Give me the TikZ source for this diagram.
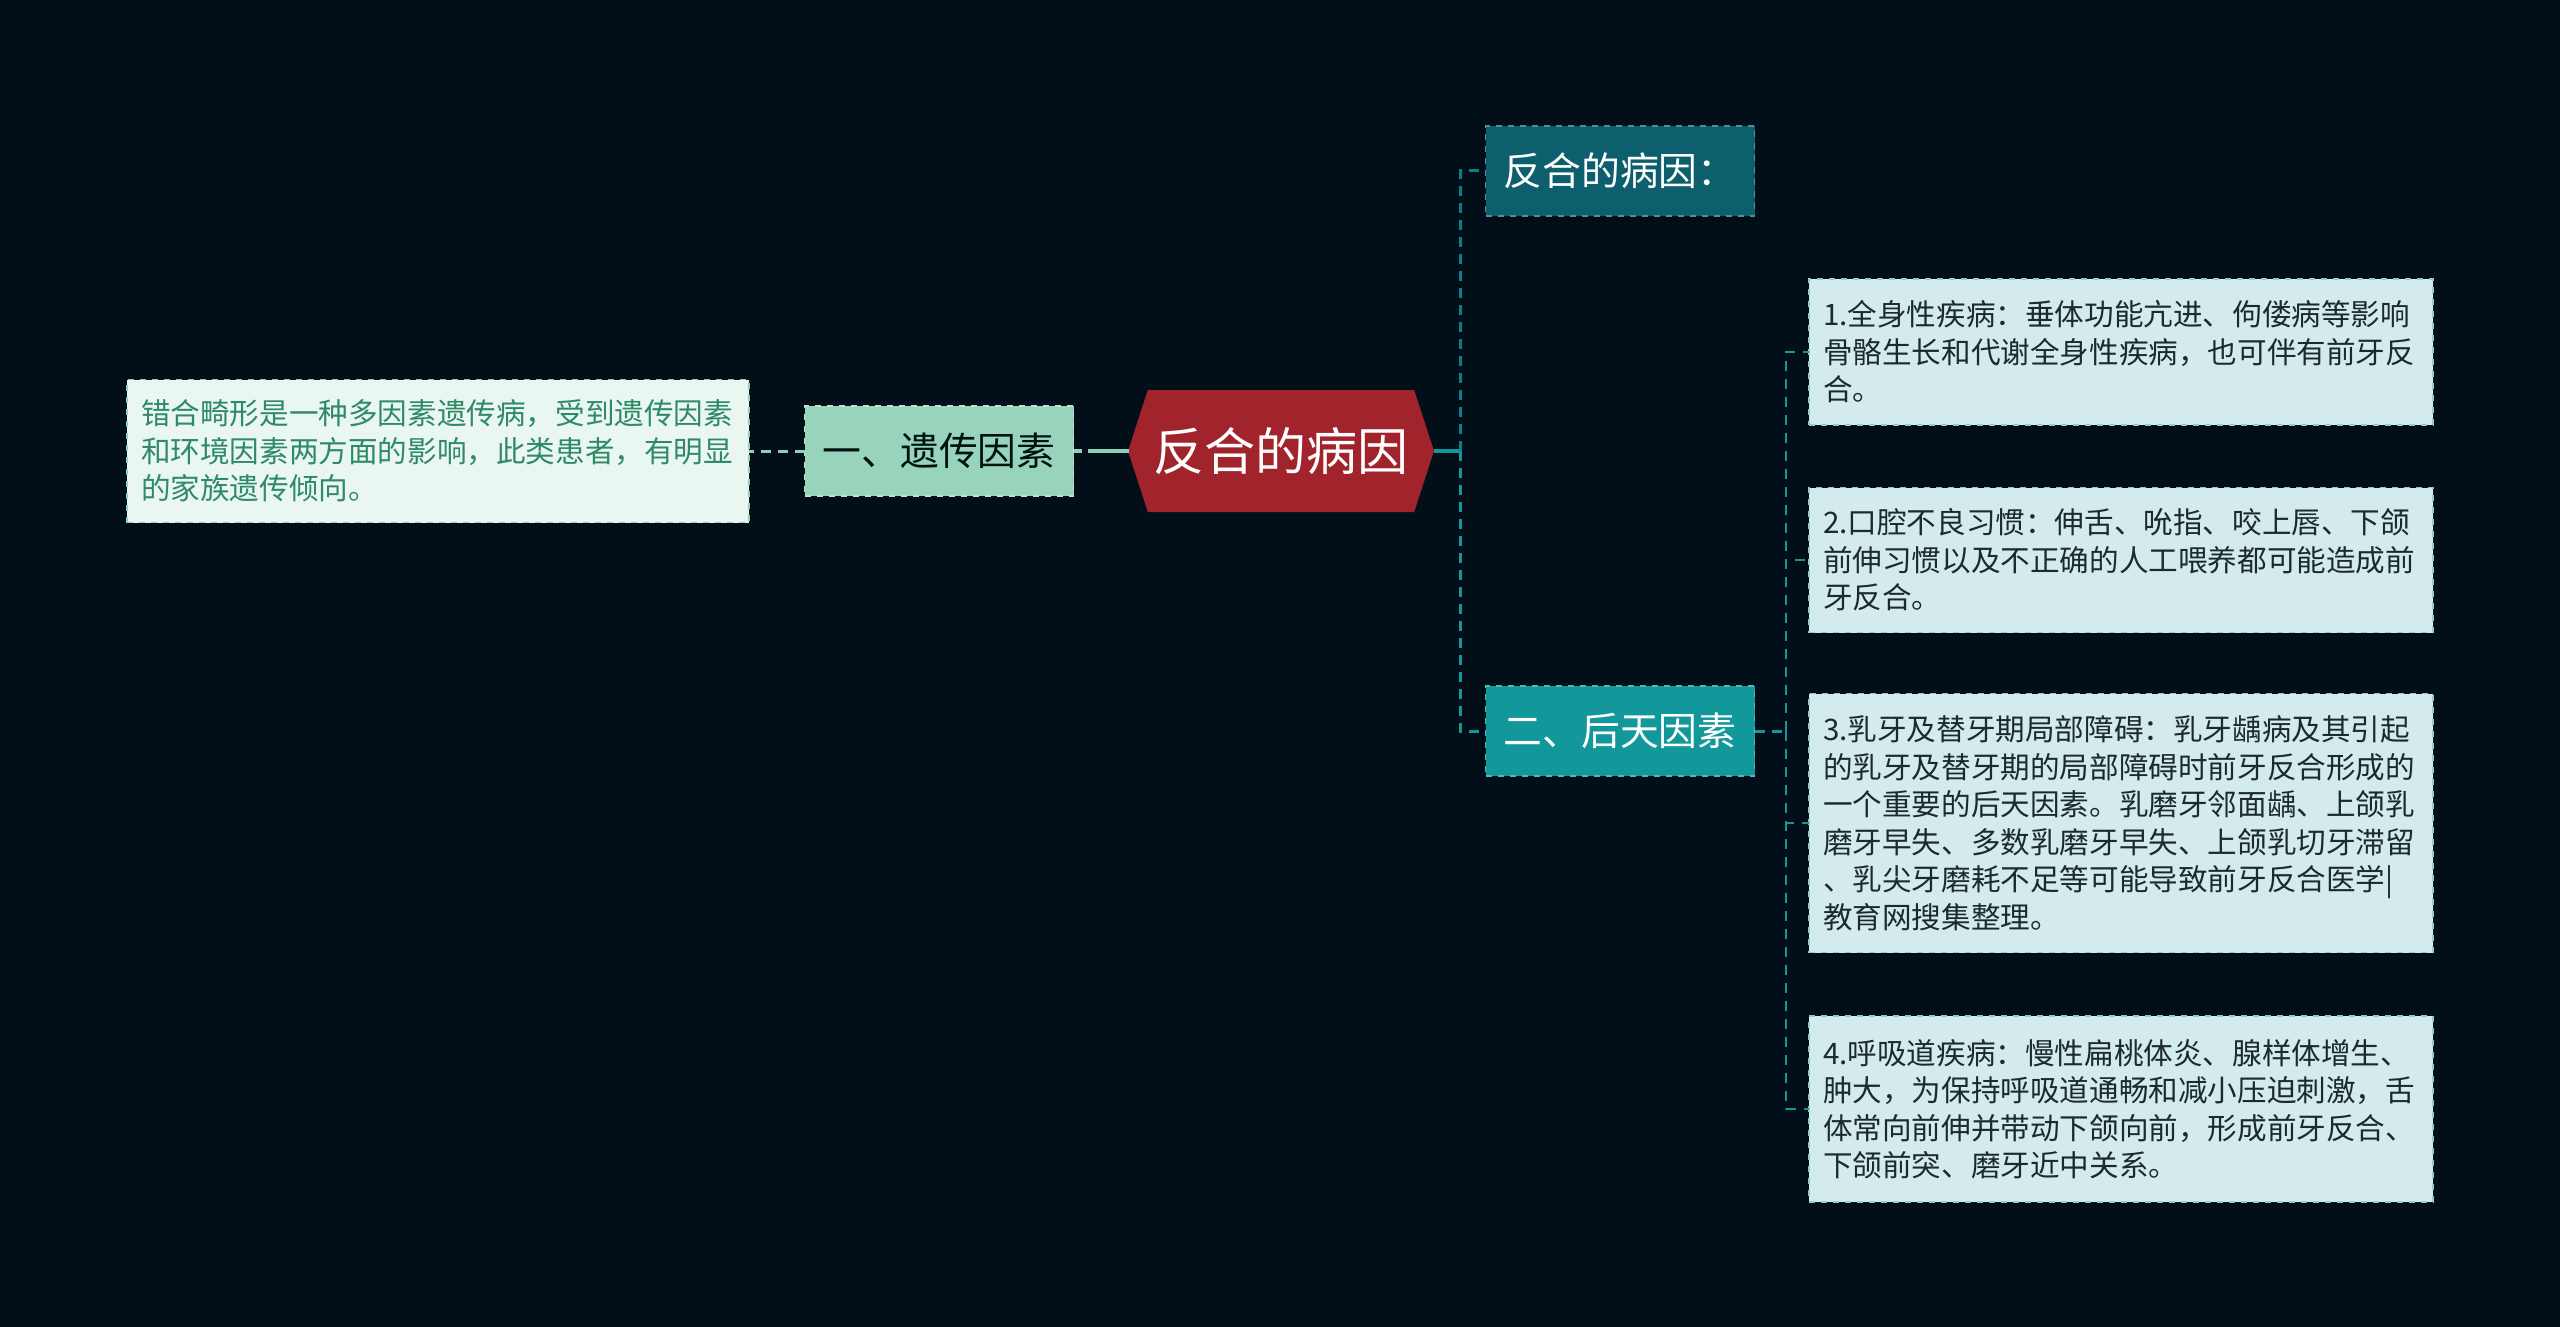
\documentclass[tikz,border=0pt]{standalone}
\usepackage{fontspec}
\setmainfont{Noto Sans CJK SC}
\usetikzlibrary{shapes.symbols}
\definecolor{bgcol}{HTML}{030F18}
\definecolor{rootred}{HTML}{A1232B}
\definecolor{mintfill}{HTML}{98D4BC}
\definecolor{mintline}{HTML}{8FD0B8}
\definecolor{paleleft}{HTML}{EAF6F1}
\definecolor{greentext}{HTML}{2E8A67}
\definecolor{darkteal}{HTML}{0D5F6E}
\definecolor{midteal}{HTML}{12979A}
\definecolor{palecyan}{HTML}{D3EBED}
\definecolor{boxtext}{HTML}{1C2A2D}

\begin{document}
\begin{tikzpicture}[x=0.5pt, y=-0.5pt,
  every node/.style={inner sep=0pt, outer sep=0pt},
  topic/.style={rectangle, minimum width=134.5pt, minimum height=45pt,
    font=\fontsize{19.4}{23}\selectfont, draw=#1!70!white, dashed, line width=0.6pt, fill=#1},
  leaf/.style={rectangle, text width=298pt, align=left, inner xsep=7pt,
    minimum width=312pt, fill=palecyan, draw=palecyan!70!teal, dashed, line width=0.6pt,
    font=\fontsize{14.8}{18.75}\selectfont, text=boxtext},
  link/.style={line width=1.5pt, dash pattern=on 5pt off 3.5pt}]
  % background and frame
  \fill[bgcol] (0,0) rectangle (2560,1327);
  % root topic
  \node[shape=signal, signal to=west and east, signal pointer angle=144,
    fill=rootred, minimum width=153pt, minimum height=61pt, text=white,
    font=\fontsize{25.5}{30}\selectfont] (root) at (1281,451) {反合的病因};
  % left branch
  \node[topic=mintfill, text=black!85!teal] (gene) at (939,451) {一、遗传因素};
  \node[rectangle, fill=paleleft, draw=mintline, dashed, line width=0.6pt,
    text width=297pt, align=left, inner xsep=7pt, minimum height=71.5pt,
    font=\fontsize{14.8}{18.75}\selectfont, text=greentext] (desc) at (438,451)
    {错合畸形是一种多因素遗传病，受到遗传因素\\和环境因素两方面的影响，此类患者，有明显\\的家族遗传倾向。};
  % right branch
  \node[topic=darkteal, text=white] (cause) at (1620,171) {反合的病因：};
  \node[topic=midteal, text=white] (acq) at (1620,731) {二、后天因素};
  \node[leaf, minimum height=73pt] (f1) at (2121,352)
    {1.全身性疾病：垂体功能亢进、佝偻病等影响\\骨骼生长和代谢全身性疾病，也可伴有前牙反\\合。};
  \node[leaf, minimum height=72.5pt] (f2) at (2121,560)
    {2.口腔不良习惯：伸舌、吮指、咬上唇、下颌\\前伸习惯以及不正确的人工喂养都可能造成前\\牙反合。};
  \node[leaf, minimum height=129.5pt] (f3) at (2121,823)
    {3.乳牙及替牙期局部障碍：乳牙龋病及其引起\\的乳牙及替牙期的局部障碍时前牙反合形成的\\一个重要的后天因素。乳磨牙邻面龋、上颌乳\\磨牙早失、多数乳磨牙早失、上颌乳切牙滞留\\、乳尖牙磨耗不足等可能导致前牙反合医学|\\教育网搜集整理。};
  \node[leaf, minimum height=93pt] (f4) at (2121,1109)
    {4.呼吸道疾病：慢性扁桃体炎、腺样体增生、\\肿大，为保持呼吸道通畅和减小压迫刺激，舌\\体常向前伸并带动下颌向前，形成前牙反合、\\下颌前突、磨牙近中关系。};
  % connectors
  \coordinate (hub) at (1460,451);
  \coordinate (hubb) at (1786,731);
  \draw[mintline, line width=1.6pt, dash pattern=on 4pt off 3pt on 20pt off 0pt] (gene.east) -- (root.west);
  \draw[mintline, link] (gene.west) -- (desc.east);
  \draw[midteal, line width=1.6pt] (root.east) -- (hub);
  \draw[darkteal!80!cyan, link] (hub) |- (cause.west);
  \draw[midteal, link] (hub) |- (acq.west);
  \draw[midteal, link] (acq.east) -- (hubb);
  \foreach \f in {f1,f2,f3,f4}
    \draw[midteal, line width=1.2pt, dash pattern=on 5pt off 4pt] (hubb) |- (\f.west);
\end{tikzpicture}
\end{document}
